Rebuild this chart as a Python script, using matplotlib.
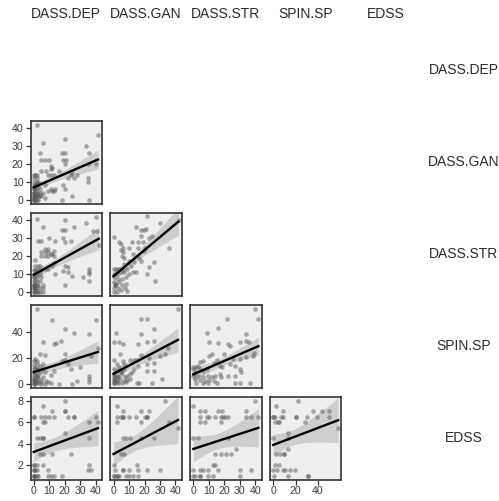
import numpy as np
import matplotlib
matplotlib.use('Agg')
import matplotlib.pyplot as plt

plt.rcParams['font.family'] = ['Liberation Sans', 'DejaVu Sans']

variables = ['DASS.DEP', 'DASS.GAN', 'DASS.STR', 'SPIN.SP', 'EDSS']
axis_lims = {'DASS.DEP': (-2.1, 44.1), 'DASS.GAN': (-2.1, 44.1), 'DASS.STR': (-2.1, 44.1),
             'SPIN.SP': (-2.9, 60.9), 'EDSS': (0.65, 8.35)}
axis_ticks = {'DASS.DEP': [0, 10, 20, 30, 40], 'DASS.GAN': [0, 10, 20, 30, 40],
              'DASS.STR': [0, 10, 20, 30, 40], 'SPIN.SP': [0, 20, 40], 'EDSS': [2, 4, 6, 8]}

gan_vs_dep = np.array([(2,42),(6,32),(4,26),(5,22),(7,22),(10,22),(5,16),(8,16),(11,19),(12,18),(11,17),(16,16),(9,14),(11,14),(13,14),(20,34),(18,26),(20,26),(19,22),(21,22),(20,20),(24,14),(25,15),(28,14),(22,12),(26,12),(19,8),(20,6),(7,8),(11,6),(13,5),(14,6),(12,5),(9,5),(25,2),(18,0),(36,0),(34,30),(36,26),(41.5,36),(35,20),(40,20),(35,12),(35,10),
    (0,14),(1,14),(2,14),(0,12),(2,12),(0,10),(2,10),(3,10),(0,8),(1,8),(3,8),(0,6),(2,6),(4,6),(0,4),(2,4),(4,4),(6,4),(0,2),(2,2),(4,2),(0,0),(2,0),(3,0),(5,2),(7,1),(0,4),(1,6),(3,4),(0,0),
    (0,0),(1,0),(0,2),(1,2),(0,4),(1,4),(2,2),(0,6),(1,0),(0,1),(3,2),(2,8),(0,1),(1,3)])

str_vs_dep = np.array([(2,40.5),(6,36.5),(20,40),(18,34.5),(20,34.5),(26,36.5),(34,38.7),(40,42),(38,34),(41,34),(3,28.5),(5,28.5),(10,30),(14,28.5),(19,30),(20,28),(24,28.5),(7,24),(9,24),(5,22),(7,22),(9,22),(11,21),(13,23),(12,21),(13,20),(5,20),(7,20),(9,20),(1,18),(1,14.5),(3,14.5),(4,14.5),(13,16),(12,14.5),(7,12.6),(9,12.6),(20,14.5),(22,14),(19,11.7),(22,10.8),(14,10),(25,9),(31.5,8),(36,13),(36,11),(36,10),(36,6),(20,4),(42,26),
    (0,12),(1,12),(3,12),(5,12),(0,10),(2,10),(4,10),(0,8),(2,8),(5,8),(0,6),(2,6),(4,6),(0,4),(1,4),(3,4),(6,4),(0,2),(2,2),(4,2),(6,2),(0,0),(2,0),(4,0),(6,0),(0,4),(1,2),
    (0,0),(1,0),(0,2),(1,2),(0,4),(2,4),(1,6),(0,8),(3,0),(1,1)])

spin_vs_dep = np.array([(2,58),(12,49),(20,42),(26,39),(14.5,31.6),(13.4,30.4),(17.7,33),(6,32.4),(36,38.5),(40,49),(41.5,28),(37,21.5),(20,23),(4,23),(7.4,22),(18,17.7),(20,18),(22,15),(24,11.4),(13,10),(11,7),(28,2.5),(25,0),(36,6),(36,4),(36,1),(16.6,0),(7.4,0),(4.5,0),(11,0.5),(30,12.7),
    (0,17.7),(1,19),(2.3,17.7),(0,14.7),(2,15),(4,14),(6,15),(0,11.4),(2,11.4),(3,10.6),(6,11.4),(0,9),(1,8),(4,9),(7,9),(0,5.6),(2,5.6),(3,4.6),(6,5.6),(0,3),(2.3,2.5),(5,3),(8,2),(0,0.5),(1,0),(3,0.5),(9,1.3),(1,12),(3,7),(5,1),
    (0,0),(1,1),(0,2),(2,1),(0,4),(1,3),(2,6),(0,7)])

edss_vs_dep = np.array([(0,6.5),(0,6.5),(2,5.5),(6,7.5),(5,6.5),(7,6.5),(6,6),(7.5,6),(2,4.5),(4,4.5),(6,4.5),(6,4.5),(4,3),(6,3),(12,7),(10,6.5),(13,6.5),(20,8),(20,7),(20,7),(20,5),(22,6.5),(26,6.5),(26,6.5),(12,3),(24,3),(36,6),(40,6.5),(41.5,6),(36,4.5),(36,2),(35,1.5),(37,1.5),(0,2),(0,1.5),(2,1.5),(0,1),(0,1),(6,2),(9,1.5),(9,1),(11,1),(13,1),(18,1),
    (0,1),(1,1),(2,1),(0,1.5),(1,1.5),(3,1),(0,2),(2,2)])

str_vs_gan = np.array([(21.7,42.4),(30,38.7),(14.3,36),(18,34.4),(19.6,34.4),(21,35),(17.5,31),(22.7,30),(25,31),(0.6,30.7),(3.4,28),(4.8,26.6),(5.9,24.7),(4.8,23.3),(5.9,22),(5.3,20),(6.5,18.8),(12,28),(15.8,28),(19,28),(10,24.7),(15.8,24.7),(20.6,24.7),(19.5,23),(36,24.4),(12.8,21),(16.4,19),(18,17.3),(10,17.3),(13,16.4),(7,15.4),(11,14.5),(22.7,13.6),(26,16.4),(21.7,9.9),(27,6),(42,40),
    (0,12.6),(1.7,12.6),(3.8,12.6),(5.9,12.6),(9,12.6),(0,9.9),(2.3,9.9),(4.8,10.8),(6.9,10.8),(10,9.9),(12.8,11.3),(14.3,11.3),(0.6,8),(2.7,7),(5.3,7),(8,8),(0.2,5.2),(1.7,4.3),(3.8,5.2),(5.3,3.9),(8,4.3),(0,2),(2.7,2),(4.8,0.9),(7.4,2),(9,0.5),(0,0),(2.3,0),(1,4),(1,4)])

spin_vs_gan = np.array([(41.6,57.7),(17.9,50),(21.7,50),(25.9,42.5),(17.9,38.5),(1.7,39),(0.2,32.4),(3.8,32.4),(5.9,30.4),(21.7,32.4),(25.9,33.4),(15.8,30.9),(4.4,23.3),(17.9,22.3),(22.7,20.3),(29.7,21.5),(33.2,22.8),(35.3,27.8),(0.6,18.2),(2.3,15.2),(5.9,17.7),(6.9,15.2),(10.7,18.2),(13.2,18.2),(14.9,18.2),(21.7,15.2),(25.9,15.7),(21.7,10),(25.9,10),(31,3.8),(15.8,13.9),(13.2,11.4),(10.7,7.6),(12.2,8.9),(14.9,0.5),(16.4,0.5),(24.8,0.5),
    (0.6,11.4),(2.3,10),(3.8,12.7),(4.8,10),(6.5,11.4),(0.6,7.6),(2.7,6.3),(5.3,7.6),(7.4,5.6),(9,6.3),(0.6,3.8),(2.3,3),(4.4,3.8),(6.5,2.5),(8.6,3),(10.7,3.8),(0.6,0.5),(2.7,0.5),(5.3,0.5),(8,1.3),(3,5),(5,9),
    (0,0.5),(1,2),(0,3),(2,1),(1,5),(0,6)])

edss_vs_gan = np.array([(2.3,7.5),(5.9,7),(2.3,6.5),(4.8,6.5),(5.9,6.5),(5.9,6.5),(10,6.5),(14.3,6.5),(2.3,6),(17.9,7),(17.9,6),(20.6,6.5),(21.7,6.5),(21.7,6.5),(22.7,7),(33,8),(36,6),(41.6,5.5),(5.9,4.5),(8,4.5),(10.7,4.5),(17.9,4.5),(25.9,4.5),(4.8,3),(6.9,3),(0,2),(14.9,2),(0.6,1),(2.3,1),(3.8,1),(5.9,1.5),(5.9,1.5),(10,1.5),(8,1),(10,1),(12.8,1),(15.8,1),(21.7,1.5),(29.7,1.5),(15.8,1.5),
    (0,1),(1,1.5),(2,1)])

spin_vs_str = np.array([(40,57.7),(42,50),(22,50),(16,43),(8.5,39),(34,38.5),(10,32.4),(16,31.6),(22.4,30.9),(24,29),(30,32.4),(34,33.4),(35.7,32.4),(39.5,24),(38.5,21.5),(20,22.8),(11.8,22.8),(10,21.5),(0,13),(0,11.4),(1,9),(0,6.3),(3.2,14),(4.3,16.5),(6.4,17.7),(15,18.2),(13.5,15.7),(17,14),(18.6,12.7),(25.6,19),(30,19),(34,20.8),(23.5,15.2),(26.7,14),(30,11.4),(31,8.9),(26.7,6.3),(22.4,6.3),(17,7.6),(18,5),(26.7,0.5),(30,0.5),(36.3,0.5),
    (2,12.7),(4.3,11.4),(6.4,10),(8.5,11.4),(0.6,7.6),(3.2,6.3),(6.4,5.6),(9.6,6.3),(11.8,5),(13.9,6.3),(1,3.8),(4.3,3),(7.5,2.5),(10,3),(13.5,2.5),(2,0.5),(6.4,0.5),(9.6,0.5),(15,0.5)])

edss_vs_str = np.array([(0,7.5),(4.3,7),(7.5,7),(4.3,6.5),(8.5,6.5),(10,6.5),(13.9,6.5),(4.3,6),(7.5,6),(16,7),(18.6,7),(17.7,6.5),(19,6.5),(20.3,6.5),(22.4,6.5),(17.7,6),(34,6.5),(37.4,6.5),(42,6.5),(40,8),(34,7),(0,4.5),(3.2,4.5),(22.4,4.5),(13.9,3),(17.7,3),(21.4,3),(24.6,3),(27.8,3.5),(12.8,2),(13.9,2),(4.3,1.5),(6.4,1.5),(9.6,1.5),(4.3,1),(9.6,1),(12.8,1),(16,1.5),(30,1.5),(37.4,1.5),(30,1),(4.3,1),
    (0,1),(1,1),(0,1.5)])

edss_vs_spin = np.array([(22,8),(2.4,7.5),(8.5,7),(0,6.5),(1.8,6.5),(7,6.5),(8.5,6.5),(1.8,6),(4,6),(20.8,6.5),(20.8,6.5),(30,6.5),(39,6.5),(28.4,6),(35.4,7),(43.7,7),(49.8,7),(49.8,6.5),(58,5.5),(0,4.5),(13,5),(13,4.5),(13,3.5),(2.4,3),(6.1,3),(10,3),(10,3),(1.8,2),(5.5,2),(0,1.5),(3,1.5),(8.5,1.5),(11,1.5),(14.7,1.5),(19.2,1.5),(1,1),(13,1),(31.5,1),(31.5,1),
    (0,6.5),(5,6)])

panels = {
    (1, 0): gan_vs_dep,
    (2, 0): str_vs_dep, (2, 1): str_vs_gan,
    (3, 0): spin_vs_dep, (3, 1): spin_vs_gan, (3, 2): spin_vs_str,
    (4, 0): edss_vs_dep, (4, 1): edss_vs_gan, (4, 2): edss_vs_str, (4, 3): edss_vs_spin,
}

W, H = 499, 501
fig = plt.figure(figsize=(W / 100, H / 100), dpi=100)
fig.patch.set_facecolor('white')

col_left = [30.5, 110.3, 190.1, 269.9, 349.7]
col_w = 71.5
row_top = [29, 121, 213, 305, 397]
row_h = 82.5

for (r, c), d in panels.items():
    l, t = col_left[c], row_top[r]
    ax = fig.add_axes([l / W, 1 - (t + row_h) / H, col_w / W, row_h / H])
    ax.set_facecolor('#EFEFEF')
    xv, yv = variables[c], variables[r]
    x, y = d[:, 0], d[:, 1]
    n = len(x)
    xm = x.mean()
    sxx = ((x - xm) ** 2).sum()
    b1 = ((x - xm) * (y - y.mean())).sum() / sxx
    b0 = y.mean() - b1 * xm
    g = np.linspace(x.min(), x.max(), 100)
    yh = b0 + b1 * g
    s = np.sqrt(((y - (b0 + b1 * x)) ** 2).sum() / (n - 2))
    se = s * np.sqrt(1 / n + (g - xm) ** 2 / sxx)
    ax.fill_between(g, yh - 2.0 * se, yh + 2.0 * se, color='#9A9A9A', alpha=0.38, lw=0, zorder=1)
    ax.scatter(x, y, s=11, color='#5A5A5A', alpha=0.5, linewidths=0, zorder=2)
    ax.plot(g, yh, color='black', lw=1.7, zorder=3)
    ax.set_xlim(*axis_lims[xv])
    ax.set_ylim(*axis_lims[yv])
    for sp in ax.spines.values():
        sp.set_color('#333333')
        sp.set_linewidth(1.2)
    ax.tick_params(direction='out', length=3.5, width=0.9, color='#333333',
                   labelsize=7.6, labelcolor='#3A3A3A', pad=1.5)
    if r == 4:
        ax.set_xticks(axis_ticks[xv])
    else:
        ax.set_xticks([])
    if c == 0:
        ax.set_yticks(axis_ticks[yv])
    else:
        ax.set_yticks([])

for i, name in enumerate(variables):
    fig.text((col_left[i] + col_w / 2) / W, 1 - 13.5 / H, name, ha='center', va='center',
             fontsize=10, color='#2B2B2B')
    fig.text(464 / W, 1 - (row_top[i] + row_h / 2) / H, name, ha='center', va='center',
             fontsize=10, color='#2B2B2B')

fig.savefig('out.png', dpi=100, facecolor='white')
